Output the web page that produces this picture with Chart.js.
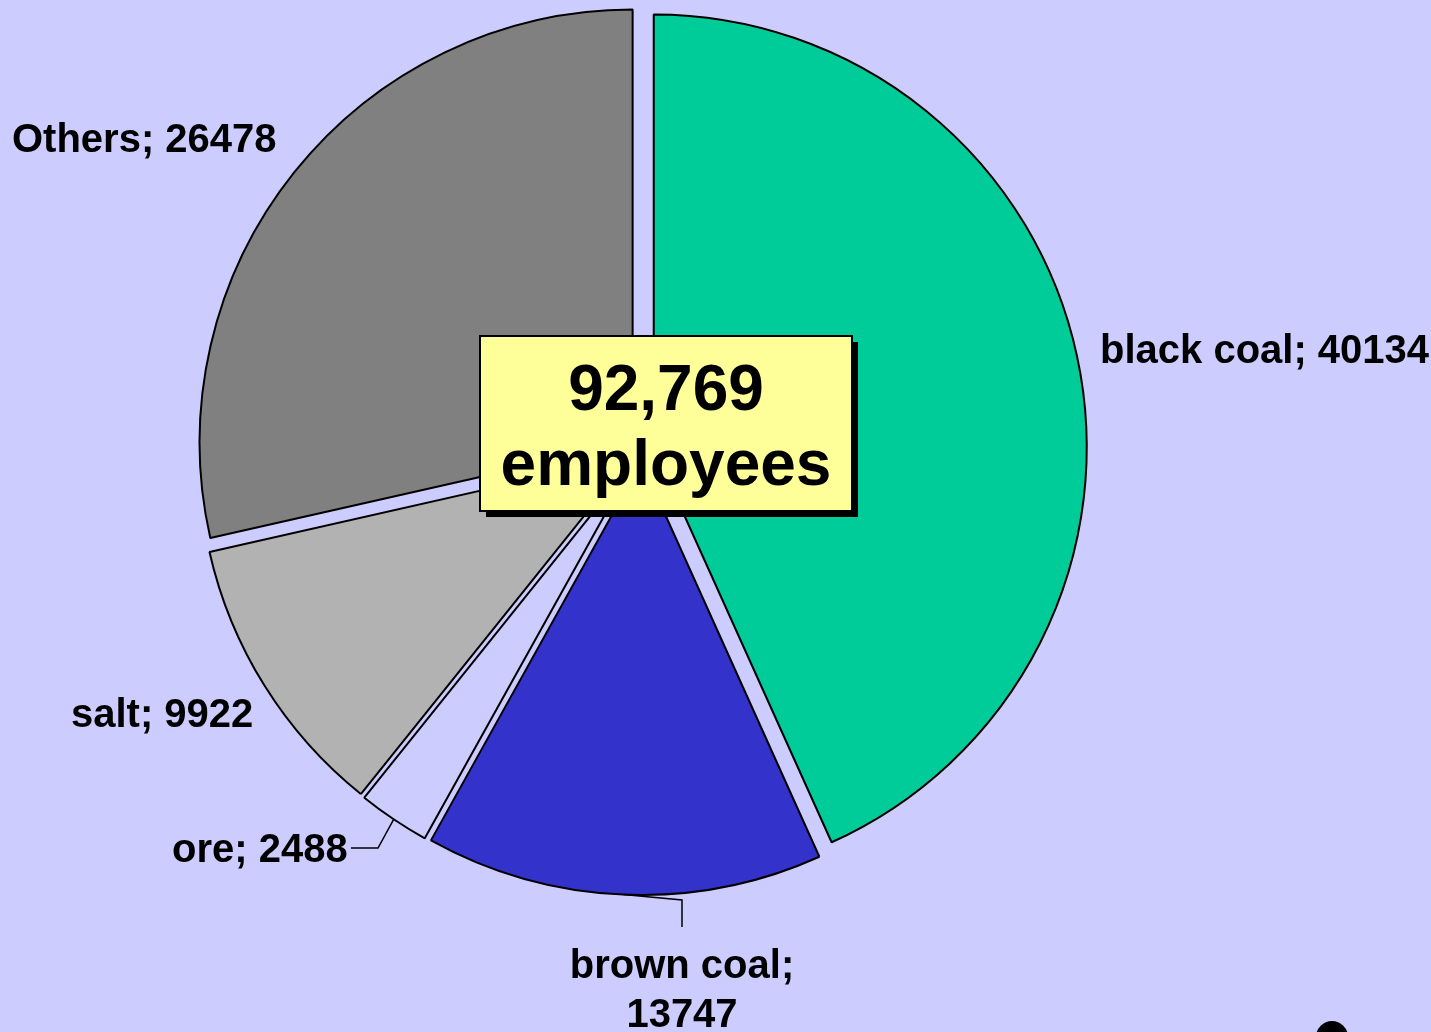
<!DOCTYPE html>
<html>
<head>
<meta charset="utf-8">
<script src="https://cdn.jsdelivr.net/npm/chart.js@4.4.1/dist/chart.umd.min.js"></script>
<style>
    html, body { margin: 0; padding: 0; background: #CCCCFF; overflow: hidden; }
    #box { position: relative; width: 1431px; height: 1032px; }
</style>
</head>
<body>
<div id="box"><canvas id="pie"></canvas></div>
<script>
const categories = ['black coal', 'brown coal', 'ore', 'salt', 'Others'];
const employees = [40134, 13747, 2488, 9922, 26478];
const sliceColors = ['#00CC99', '#3333CC', '#CCCCFF', '#B2B2B2', '#808080'];
const totalLines = ['92,769', 'employees'];

const EXPLODE = 12;
const LABEL_FONT = 'bold 40px "Liberation Sans", Arial, sans-serif';
const BIG_FONT = 'bold 64px "Liberation Sans", Arial, sans-serif';

// where each label sits, and the elbow of its leader line (if any)
const labelSpots = [
    { x: 1100, y: 363, align: 'left' },
    { x: 682, y: 978, align: 'center', split: true, leader: [[682, 900], [682, 927]] },
    { x: 172, y: 862, align: 'left', leader: [[378, 848], [351, 848]] },
    { x: 71, y: 727, align: 'left' },
    { x: 12, y: 152, align: 'left' },
];

// pull every slice outward along its middle angle
const explodePlugin = {
    id: 'explode',
    afterUpdate(chart) {
        chart.getDatasetMeta(0).data.forEach(arc => {
            const mid = (arc.startAngle + arc.endAngle) / 2;
            arc.x += Math.cos(mid) * EXPLODE;
            arc.y += Math.sin(mid) * EXPLODE;
        });
    },
};

const labelPlugin = {
    id: 'labels',
    afterDraw(chart) {
        const ctx = chart.ctx;
        const arcs = chart.getDatasetMeta(0).data;
        ctx.save();
        ctx.fillStyle = '#000';
        ctx.strokeStyle = '#000';
        ctx.lineWidth = 1.5;
        ctx.font = LABEL_FONT;
        ctx.textBaseline = 'alphabetic';

        arcs.forEach((arc, i) => {
            const spot = labelSpots[i];
            const text = categories[i] + '; ' + employees[i];
            if (spot.leader) {
                const mid = (arc.startAngle + arc.endAngle) / 2;
                ctx.beginPath();
                ctx.moveTo(arc.x + Math.cos(mid) * arc.outerRadius, arc.y + Math.sin(mid) * arc.outerRadius);
                spot.leader.forEach(p => ctx.lineTo(p[0], p[1]));
                ctx.stroke();
            }
            ctx.textAlign = spot.align;
            if (spot.split) {
                ctx.fillText(categories[i] + ';', spot.x, spot.y);
                ctx.fillText(String(employees[i]), spot.x, spot.y + 49);
            } else {
                ctx.fillText(text, spot.x, spot.y);
            }
        });

        // total box in the middle
        ctx.fillStyle = '#000';
        ctx.fillRect(486, 342, 372, 175);
        ctx.fillStyle = '#FFFF99';
        ctx.fillRect(480, 336, 372, 175);
        ctx.lineWidth = 2;
        ctx.strokeRect(480, 336, 372, 175);
        ctx.fillStyle = '#000';
        ctx.font = BIG_FONT;
        ctx.textAlign = 'center';
        ctx.fillText(totalLines[0], 666, 410);
        ctx.fillText(totalLines[1], 666, 485);

        // stray bullet at the bottom right
        ctx.beginPath();
        ctx.arc(1332, 1037, 16, 0, Math.PI * 2);
        ctx.fill();
        ctx.restore();
    },
};

new Chart(document.getElementById('pie'), {
    type: 'pie',
    data: {
        labels: categories,
        datasets: [{
            data: employees,
            backgroundColor: sliceColors,
            borderColor: '#000',
            borderWidth: 2,
        }],
    },
    options: {
        responsive: true,
        maintainAspectRatio: false,
        animation: false,
        events: [],
        layout: { padding: { left: 208, right: 355, top: 16, bottom: 148 } },
        plugins: {
            legend: { display: false },
            tooltip: { enabled: false },
        },
    },
    plugins: [explodePlugin, labelPlugin],
});
</script>
</body>
</html>
